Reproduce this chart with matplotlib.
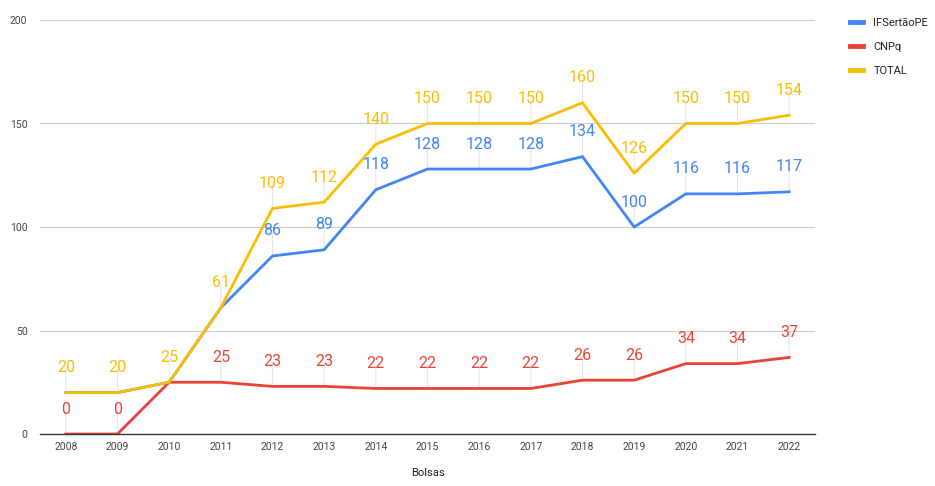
import matplotlib
matplotlib.use("Agg")
import matplotlib.pyplot as plt

years = [2008, 2009, 2010, 2011, 2012, 2013, 2014, 2015, 2016, 2017, 2018, 2019, 2020, 2021, 2022]
ifsertao = [20, 20, 25, 61, 86, 89, 118, 128, 128, 128, 134, 100, 116, 116, 117]
cnpq = [0, 0, 25, 25, 23, 23, 22, 22, 22, 22, 26, 26, 34, 34, 37]
total = [20, 20, 25, 61, 109, 112, 140, 150, 150, 150, 160, 126, 150, 150, 154]
series_names = ["IFSertãoPE", "CNPq", "TOTAL"]
colors = ["#4285F4", "#EA4335", "#FBBC04"]
yticks = [0, 50, 100, 150, 200]

plt.rcParams['font.family'] = ['Roboto', 'DejaVu Sans']

fig = plt.figure(figsize=(9.35, 4.86), dpi=100)
ax = fig.add_axes([40/935, 1-434/486, 775/935, 414/486])

x = list(range(len(years)))
series = [ifsertao, cnpq, total]
lines = []
for vals, c, name in zip(series, colors, series_names):
    ln, = ax.plot(x, vals, color=c, lw=2, label=name, zorder=3, solid_joinstyle='miter')
    lines.append(ln)

# data labels with stems (a label hidden when a later series has the same value there)
for si, (vals, c) in enumerate(zip(series, colors)):
    for i, v in enumerate(vals):
        if any(series[sj][i] == v for sj in range(si + 1, len(series))):
            continue
        ax.annotate("", xy=(i, v), xytext=(0, 17), textcoords='offset points',
                    arrowprops=dict(arrowstyle='-', color='#e6e6e6', lw=0.8,
                                    shrinkA=0, shrinkB=0), zorder=1)
        ax.annotate(str(v), xy=(i, v), xytext=(0, 18), textcoords='offset points',
                    ha='center', va='center', color=c, fontsize=11.5, zorder=4)

ax.set_xlim(-0.5, len(years) - 0.5)
ax.set_ylim(0, 200)
ax.set_yticks(yticks)
ax.set_xticks(x)
ax.set_xticklabels([str(y) for y in years])
ax.tick_params(axis='both', length=0, labelsize=7.5, colors='#444444')
ax.tick_params(axis='y', pad=9)
ax.tick_params(axis='x', pad=6)
ax.grid(axis='y', color='#cccccc', lw=0.8, zorder=0)
for s in ['top', 'right', 'left']:
    ax.spines[s].set_visible(False)
ax.spines['bottom'].set_color('#333333')
ax.spines['bottom'].set_linewidth(1)
ax.spines['bottom'].set_zorder(5)
ax.set_xlabel("Bolsas", fontsize=8, color='#222222', labelpad=11)

leg = fig.legend(handles=lines, labels=series_names, loc='upper left',
                 bbox_to_anchor=(840/935, 1 - 8/486), frameon=False,
                 fontsize=8, handlelength=1.2, handletextpad=0.9,
                 labelspacing=1.25, labelcolor='#222222')
for h in leg.get_lines():
    h.set_linewidth(3.5)

fig.savefig("out.png", dpi=100)
